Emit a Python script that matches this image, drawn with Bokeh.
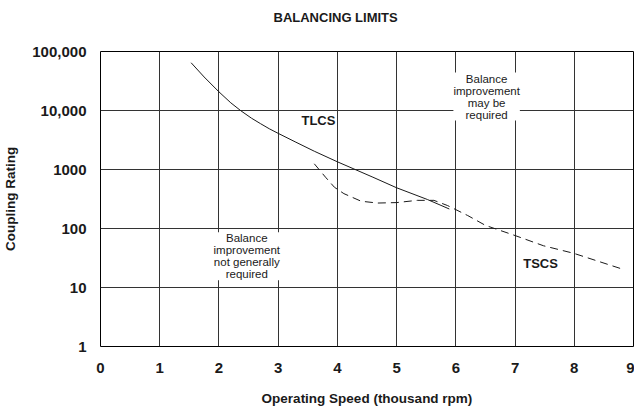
from bokeh.plotting import figure
from bokeh.models import FixedTicker, Label, Range1d
from bokeh.embed import file_html
from bokeh.resources import INLINE

# ---- data ----
x_ticks = [0, 1, 2, 3, 4, 5, 6, 7, 8, 9]
y_ticks = [1, 10, 100, 1000, 10000, 100000]
y_tick_labels = ["1", "10", "100", "1000", "10,000", "100,000"]

tlcs_speed = [1.53, 1.75, 2.0, 2.2, 2.37, 2.55, 2.7, 2.85, 3.0, 3.3, 3.61, 4.0, 4.28, 4.6, 5.0, 5.52, 5.89]
tlcs_rating = [64500, 37000, 20700, 13500, 9900, 7400, 6000, 4900, 4100, 2900, 2040, 1350, 1020, 740, 490, 310, 214]

tscs_speed = [3.61, 3.8, 3.95, 4.11, 4.4, 4.68, 5.0, 5.35, 5.63, 5.86, 6.2, 6.5, 7.0, 7.48, 7.99, 8.78]
tscs_rating = [1250, 740, 500, 390, 290, 270, 275, 300, 300, 245, 166, 113, 76, 51, 38, 21]

title_text = "BALANCING LIMITS"
x_title = "Operating Speed (thousand rpm)"
y_title = "Coupling Rating"

FONT = "Liberation Sans"
INK = "#1a1a1a"

p = figure(width=634, height=409, y_axis_type="log",
           x_range=Range1d(0, 9), y_range=Range1d(1, 100000),
           output_backend="svg", toolbar_location=None,
           min_border_left=99, min_border_right=1,
           min_border_top=51, min_border_bottom=63,
           title=title_text + "\n\u00a0")

p.title.text_font = FONT
p.title.text_font_size = "13px"
p.title.text_font_style = "bold"
p.title.text_color = INK
p.title.align = "left"
p.title.offset = 173
p.title.vertical_align = "top"
p.title.standoff = 19

p.background_fill_color = "white"
p.border_fill_color = "white"
p.outline_line_color = "black"
p.outline_line_width = 1

p.xaxis.ticker = FixedTicker(ticks=x_ticks, minor_ticks=[])
p.yaxis.ticker = FixedTicker(ticks=y_ticks, minor_ticks=[])
p.yaxis.major_label_overrides = {t: s for t, s in zip(y_ticks, y_tick_labels)}

for ax in (p.xaxis, p.yaxis):
    ax.axis_line_color = None
    ax.major_tick_line_color = None
    ax.minor_tick_line_color = None
    ax.major_tick_out = 0
    ax.major_tick_in = 0
    ax.minor_tick_out = 0
    ax.minor_tick_in = 0
    ax.major_label_text_font = FONT
    ax.major_label_text_font_size = "15px"
    ax.major_label_text_font_style = "bold"
    ax.major_label_text_color = INK
    ax.axis_label_text_font = FONT
    ax.axis_label_text_font_size = "13.5px"
    ax.axis_label_text_font_style = "bold"
    ax.axis_label_text_color = INK

p.xaxis.axis_label = x_title
p.yaxis.axis_label = y_title
p.xaxis.major_label_standoff = 16
p.xaxis.axis_label_standoff = 15
p.yaxis.major_label_standoff = 14
p.yaxis.axis_label_standoff = 11

for g in (p.xgrid, p.ygrid):
    g.grid_line_color = "#333333"
    g.grid_line_width = 1
    g.grid_line_alpha = 1

p.line(tlcs_speed, tlcs_rating, line_color=INK, line_width=1)
p.line(tscs_speed, tscs_rating, line_color=INK, line_width=1, line_dash="8 5")

upper = Label(x=6.52, y=44000, text="Balance\nimprovement\nmay be\nrequired",
              text_align="center", text_baseline="top", text_font=FONT,
              text_font_size="11.5px", text_line_height=1.0, text_color=INK,
              background_fill_color="white", background_fill_alpha=1.0)
lower = Label(x=2.47, y=86, text="Balance\nimprovement\nnot generally\nrequired",
              text_align="center", text_baseline="top", text_font=FONT,
              text_font_size="11.5px", text_line_height=1.0, text_color=INK,
              background_fill_color="white", background_fill_alpha=1.0)
tlcs = Label(x=3.68, y=6760, text="TLCS", text_align="center", text_baseline="middle",
             text_font=FONT, text_font_size="13px", text_font_style="bold", text_color=INK)
tscs = Label(x=7.43, y=26, text="TSCS", text_align="center", text_baseline="middle",
             text_font=FONT, text_font_size="13px", text_font_style="bold", text_color=INK)
for lab in (upper, lower, tlcs, tscs):
    p.add_layout(lab)

open("out.html", "w").write(file_html(p, INLINE))
